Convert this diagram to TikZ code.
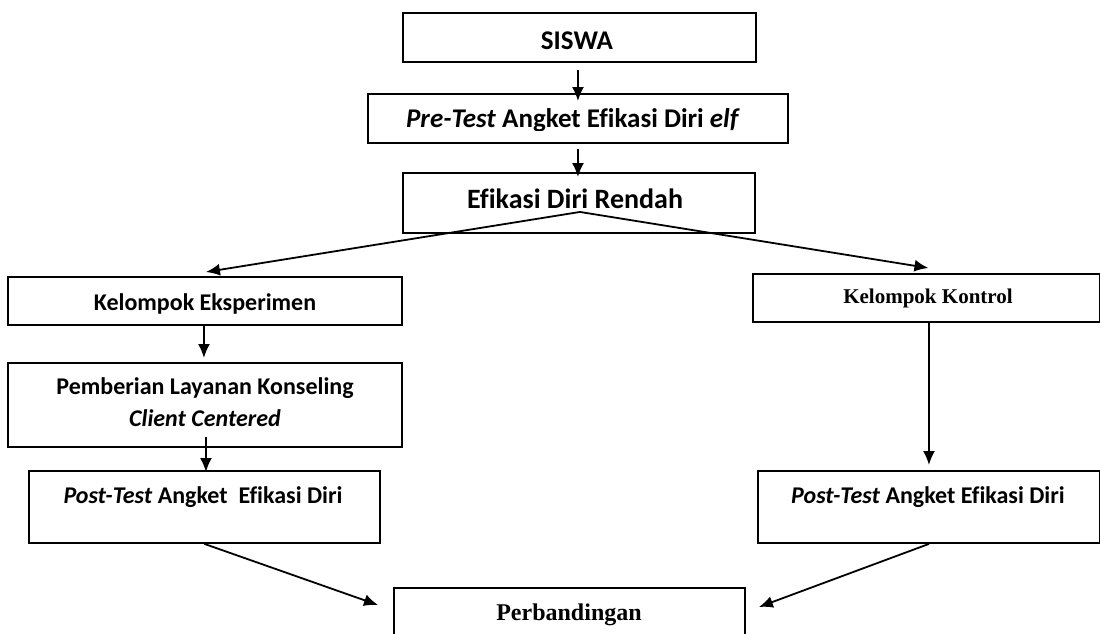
\documentclass[tikz,border=0pt]{standalone}
\usepackage{fontspec}
\setmainfont{Carlito}[Ligatures=NoCommon]
\newfontfamily\timesf{Liberation Serif}
\usetikzlibrary{arrows.meta}
\tikzset{
  box/.style={draw, line width=1.9pt, inner sep=0pt, anchor=north west},
  txt/.style={inner sep=0pt, anchor=base, font=\bfseries\fontsize{24}{32}\selectfont},
  big/.style={inner sep=0pt, anchor=base, font=\bfseries\fontsize{27}{32}\selectfont},
  tms/.style={inner sep=0pt, anchor=base, font=\timesf\bfseries\fontsize{21}{26}\selectfont},
  arr/.style={line width=1.8pt, -{Latex[length=14pt,width=12pt]}}
}
\begin{document}
\begin{tikzpicture}[x=1pt,y=-1pt]
\useasboundingbox (0,0) rectangle (1100,633);
% boxes
\node[box, minimum width=353pt, minimum height=49pt] (siswa) at (402,12) {};
\node[box, minimum width=420pt, minimum height=49pt] (pre) at (367,93) {};
\node[box, minimum width=352pt, minimum height=60pt] (efi) at (402,172) {};
\node[box, minimum width=394pt, minimum height=48pt] (eks) at (7,276) {};
\node[box, minimum width=394pt, minimum height=84pt] (pem) at (7,362) {};
\node[box, minimum width=351pt, minimum height=72pt] (postL) at (28,470) {};
\node[box, minimum width=347pt, minimum height=48pt] (kon) at (752,273) {};
\node[box, minimum width=342pt, minimum height=72pt] (postR) at (757,470) {};
\node[box, minimum width=351pt, minimum height=70pt] (perb) at (393,587) {};
% texts
\node[big] (siswaT) at (577,49) {SISWA};
\begin{scope}
\clip (367,93) rectangle (787,130);
\node[big] (preT) at (573,127) {\textit{Pre-Test} Angket Efikasi Diri \textit{elf}};
\end{scope}
\node[big, font=\bfseries\fontsize{28}{32}\selectfont] (efiT) at (575,208) {Efikasi Diri Rendah};
\node[txt] (eksT) at (205,310) {Kelompok Eksperimen};
\node[txt] (pemT1) at (205,394) {Pemberian Layanan Konseling};
\node[txt] (pemT2) at (205,426) {\textit{Client Centered}};
\node[txt] (postLT) at (203,503) {\textit{Post-Test} Angket\ \ Efikasi Diri};
\node[tms] (konT) at (928,303) {Kelompok Kontrol};
\node[txt] (postRT) at (928,503) {\textit{Post-Test} Angket Efikasi Diri};
\node[tms, font=\timesf\bfseries\fontsize{24}{28}\selectfont] (perbT) at (569,620) {Perbandingan};
% connectors
\draw[arr] ([xshift=-1.5pt,yshift=-7pt]siswa.south) -- ([yshift=-8pt]pre.north);
\draw[arr] ([yshift=-5pt]pre.south) -- ([yshift=-5pt,xshift=-1pt]efi.north);
\coordinate (split) at ([xshift=1pt,yshift=-9pt]efi.center);
\draw[arr] (split) -- ([xshift=1pt,yshift=4pt]eks.north);
\draw[arr] (split) -- ([xshift=2pt,yshift=5pt]kon.north);
\draw[arr] ([xshift=-1pt]eks.south) -- ([xshift=-1pt,yshift=4pt]pem.north);
\draw[arr] ([xshift=1pt,yshift=11pt]pem.south) -- ([xshift=1.5pt,yshift=-2pt]postL.north);
\draw[arr] (kon.south -| postR.north) -- ([yshift=5pt]postR.north);
\draw[arr] (postL.south) -- ([xshift=-15pt,yshift=-18pt]perb.north west);
\draw[arr] (postR.south) -- ([xshift=13pt,yshift=-20pt]perb.north east);
\end{tikzpicture}
\end{document}
